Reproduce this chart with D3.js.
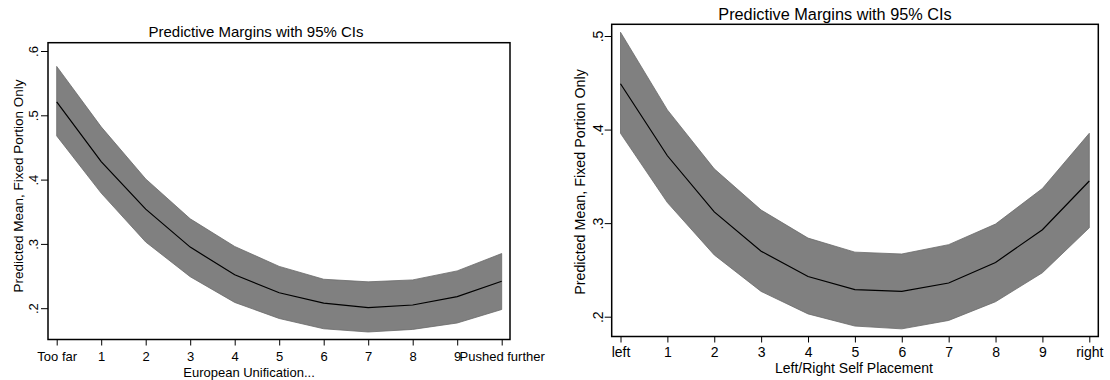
<!DOCTYPE html>
<html>
<head>
<meta charset="utf-8">
<script src="https://cdn.jsdelivr.net/npm/d3@7"></script>
<style>
  html, body { margin: 0; padding: 0; background: #fff; }
  svg { display: block; font-family: "Liberation Sans", Arial, sans-serif; }
</style>
</head>
<body>
<svg id="chart" width="1110" height="380"></svg>
<script>
// ---- Data ----
const euroCats = ["Too far", "1", "2", "3", "4", "5", "6", "7", "8", "9", "Pushed further"];
const euroMean  = [0.521, 0.428, 0.354, 0.295, 0.252, 0.224, 0.208, 0.201, 0.205, 0.218, 0.242];
const euroUpper = [0.576, 0.482, 0.401, 0.339, 0.296, 0.265, 0.245, 0.241, 0.244, 0.258, 0.285];
const euroLower = [0.468, 0.379, 0.303, 0.249, 0.209, 0.184, 0.168, 0.163, 0.167, 0.177, 0.198];
const euroYTicks = [0.2, 0.3, 0.4, 0.5, 0.6];

const lrCats = ["left", "1", "2", "3", "4", "5", "6", "7", "8", "9", "right"];
const lrMean  = [0.449, 0.372, 0.312, 0.270, 0.243, 0.229, 0.227, 0.236, 0.258, 0.293, 0.345];
const lrUpper = [0.504, 0.421, 0.358, 0.314, 0.284, 0.269, 0.267, 0.277, 0.299, 0.337, 0.396];
const lrLower = [0.396, 0.322, 0.266, 0.227, 0.203, 0.190, 0.187, 0.196, 0.216, 0.247, 0.295];
const lrYTicks = [0.2, 0.3, 0.4, 0.5];

const chartTitle = "Predictive Margins with 95% CIs";
const yTitle = "Predicted Mean, Fixed Portion Only";

// ---- Panels (layout) ----
const panels = [
  {
    cats: euroCats, mean: euroMean, upper: euroUpper, lower: euroLower, yTicks: euroYTicks,
    xTitle: "European Unification...",
    frame: {x0: 48, x1: 510, y0: 42.7, y1: 339.5},
    xr: [56.7, 501.7], yDom: [0.2, 0.6], yr: [308.2, 51],
    font: 13, titleFont: 15, titleX: 256, titleY: 36.5,
    yLabOff: 9.6, yTitleX: 18, yTitleY: 186, yTitleFont: 13.5,
    xPad: 6, xTitleX: 249, xTitleY: 376.5
  },
  {
    cats: lrCats, mean: lrMean, upper: lrUpper, lower: lrLower, yTicks: lrYTicks,
    xTitle: "Left/Right Self Placement",
    frame: {x0: 611.7, x1: 1098.3, y0: 24.3, y1: 336.5},
    xr: [620.5, 1089.3], yDom: [0.2, 0.5], yr: [316.7, 36],
    font: 14, titleFont: 16.3, titleX: 835, titleY: 19.5,
    yLabOff: 9, yTitleX: 580, yTitleY: 182, yTitleFont: 14.3,
    xPad: 4.5, xTitleX: 854, xTitleY: 373
  }
];

const svg = d3.select("#chart");

panels.forEach(p => {
  const g = svg.append("g");
  const x = d3.scaleLinear().domain([0, p.cats.length - 1]).range(p.xr);
  const y = d3.scaleLinear().domain(p.yDom).range(p.yr);
  const idx = d3.range(p.cats.length);

  // CI band
  const area = d3.area()
    .x(i => x(i))
    .y0(i => y(p.lower[i]))
    .y1(i => y(p.upper[i]));
  g.append("path")
    .datum(idx)
    .attr("d", area)
    .attr("fill", "#808080")
    .attr("stroke", "#6a6a6a")
    .attr("stroke-width", 0.8);

  // mean line
  const line = d3.line().x(i => x(i)).y(i => y(p.mean[i]));
  g.append("path")
    .datum(idx)
    .attr("d", line)
    .attr("fill", "none")
    .attr("stroke", "#000")
    .attr("stroke-width", 1.2);

  // frame
  const f = p.frame;
  g.append("rect")
    .attr("x", f.x0).attr("y", f.y0)
    .attr("width", f.x1 - f.x0).attr("height", f.y1 - f.y0)
    .attr("fill", "none").attr("stroke", "#000").attr("stroke-width", 1.5);

  // x axis
  const xAxis = d3.axisBottom(x)
    .tickValues(idx)
    .tickFormat(i => p.cats[i])
    .tickSize(6)
    .tickPadding(p.xPad);
  const gx = g.append("g").attr("transform", `translate(0,${f.y1})`).call(xAxis);
  gx.select(".domain").remove();
  gx.selectAll(".tick line").attr("stroke", "#000");
  gx.selectAll(".tick text")
    .attr("fill", "#000")
    .style("font-family", '"Liberation Sans", Arial, sans-serif')
    .style("font-size", p.font + "px");

  // y axis
  const yAxis = d3.axisLeft(y)
    .tickValues(p.yTicks)
    .tickFormat(v => d3.format(".1f")(v).replace(/^0/, ""))
    .tickSize(7);
  const gy = g.append("g").attr("transform", `translate(${f.x0},0)`).call(yAxis);
  gy.select(".domain").remove();
  gy.selectAll(".tick line").attr("stroke", "#000");
  gy.selectAll(".tick text")
    .attr("x", null).attr("dy", null)
    .attr("text-anchor", "middle")
    .attr("transform", `translate(${-p.yLabOff},0) rotate(-90)`)
    .attr("fill", "#000")
    .style("font-family", '"Liberation Sans", Arial, sans-serif')
    .style("font-size", p.font + "px");

  // titles
  g.append("text")
    .attr("x", p.titleX).attr("y", p.titleY)
    .attr("text-anchor", "middle")
    .style("font-size", p.titleFont + "px")
    .attr("fill", "#000")
    .text(chartTitle);

  g.append("text")
    .attr("x", p.xTitleX).attr("y", p.xTitleY)
    .attr("text-anchor", "middle")
    .style("font-size", p.font + "px")
    .attr("fill", "#000")
    .text(p.xTitle);

  g.append("text")
    .attr("transform", `translate(${p.yTitleX},${p.yTitleY}) rotate(-90)`)
    .attr("dy", "0.35em")
    .attr("text-anchor", "middle")
    .style("font-size", p.yTitleFont + "px")
    .attr("fill", "#000")
    .text(yTitle);
});
</script>
</body>
</html>
